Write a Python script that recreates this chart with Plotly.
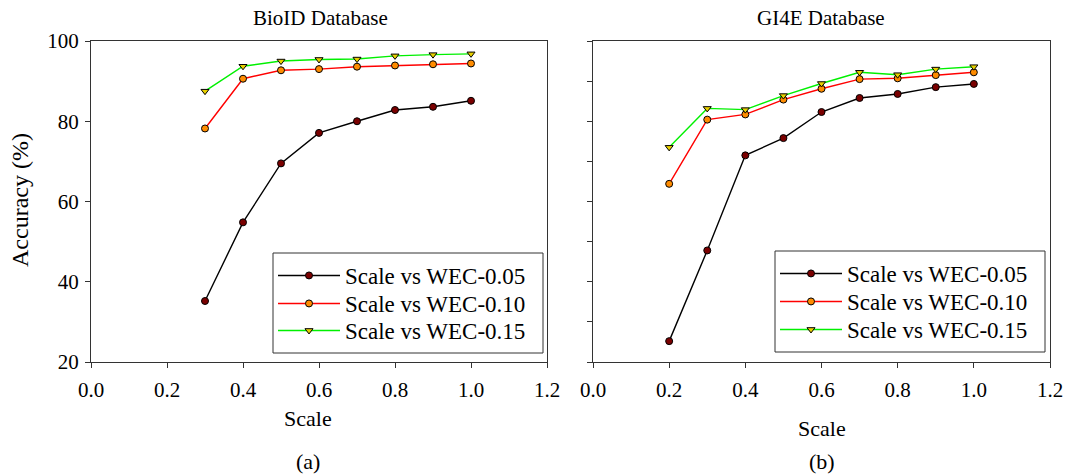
import plotly.graph_objects as go

scale_bio = [0.3, 0.4, 0.5, 0.6, 0.7, 0.8, 0.9, 1.0]
bio_wec005 = [35.2, 54.8, 69.5, 77.1, 80.0, 82.8, 83.6, 85.1]
bio_wec010 = [78.2, 90.6, 92.7, 93.0, 93.6, 93.9, 94.2, 94.4]
bio_wec015 = [87.5, 93.7, 95.0, 95.4, 95.5, 96.3, 96.6, 96.8]

scale_gi4e = [0.2, 0.3, 0.4, 0.5, 0.6, 0.7, 0.8, 0.9, 1.0]
gi4e_wec005 = [25.2, 47.8, 71.5, 75.8, 82.3, 85.8, 86.8, 88.5, 89.3]
gi4e_wec010 = [64.4, 80.4, 81.7, 85.4, 88.1, 90.5, 90.7, 91.5, 92.2]
gi4e_wec015 = [73.5, 83.2, 82.9, 86.4, 89.4, 92.2, 91.6, 93.0, 93.6]

series_names = ["Scale vs WEC-0.05", "Scale vs WEC-0.10", "Scale vs WEC-0.15"]
x_ticks = [0.0, 0.2, 0.4, 0.6, 0.8, 1.0, 1.2]
y_ticks = [20, 40, 60, 80, 100]

FONT = "Liberation Serif"
W, H = 1080, 474

styles = [
    dict(line=dict(color="black", width=1.4),
         marker=dict(symbol="circle", size=7, color="#7a0000", line=dict(color="black", width=1))),
    dict(line=dict(color="#ff0000", width=1.4),
         marker=dict(symbol="circle", size=7, color="#ff8c00", line=dict(color="black", width=1))),
    dict(line=dict(color="#00f000", width=1.4),
         marker=dict(symbol="triangle-down", size=7, color="#e8d000", line=dict(color="black", width=1))),
]

# legend row centres (pixels from top) for the left and right panels
left_rows = [275, 303, 330]
right_rows = [273, 301, 329]

fig = go.Figure()
for i, (name, ys, st) in enumerate(zip(series_names, [bio_wec005, bio_wec010, bio_wec015], styles)):
    fig.add_trace(go.Scatter(x=scale_bio, y=ys, mode="lines+markers", name=name, showlegend=True,
                             xaxis="x", yaxis="y", legend="legend" if i == 0 else f"legend{i + 1}", **st))
for i, (name, ys, st) in enumerate(zip(series_names, [gi4e_wec005, gi4e_wec010, gi4e_wec015], styles)):
    fig.add_trace(go.Scatter(x=scale_gi4e, y=ys, mode="lines+markers", name=name, showlegend=True,
                             xaxis="x2", yaxis="y2", legend=f"legend{i + 4}", **st))

ax_common = dict(showline=True, linecolor="#333", linewidth=1, mirror=True,
                 ticks="outside", ticklen=5, tickcolor="#333", showgrid=False,
                 zeroline=False, automargin=False,
                 tickfont=dict(family=FONT, size=21, color="black"))

y0 = 1 - 362 / H
y1 = 1 - 41 / H


def leg(x, row):
    return dict(x=x / W, y=1 - (row - 21) / H, xanchor="left", yanchor="top", borderwidth=0,
                bgcolor="rgba(0,0,0,0)", font=dict(family=FONT, size=23, color="black"),
                tracegroupgap=0, itemwidth=62, visible=True)


def txt(text, x, y, size, angle=0):
    return dict(text=text, x=x / W, y=1 - y / H, xref="paper", yref="paper",
                xanchor="center", yanchor="middle", showarrow=False, textangle=angle,
                font=dict(family=FONT, size=size, color="black"))


def box(x0, y0_, x1, y1_):
    return dict(type="rect", xref="paper", yref="paper", x0=x0 / W, x1=x1 / W,
                y0=1 - y1_ / H, y1=1 - y0_ / H, line=dict(color="#333", width=1),
                fillcolor="white", layer="below")


legends = {}
for i, r in enumerate(left_rows):
    legends["legend" if i == 0 else f"legend{i + 1}"] = leg(273, r)
for i, r in enumerate(right_rows):
    legends[f"legend{i + 4}"] = leg(775, r)

fig.update_layout(
    width=W, height=H,
    showlegend=True,
    margin=dict(l=0, r=0, t=0, b=0, pad=0, autoexpand=False),
    paper_bgcolor="white", plot_bgcolor="white",
    font=dict(family=FONT, color="black"),
    xaxis=dict(domain=[91 / W, 547 / W], range=[0, 1.2], tickvals=x_ticks,
               ticktext=[f"{v:.1f}" for v in x_ticks], anchor="y", ticklabelstandoff=4, **ax_common),
    yaxis=dict(domain=[y0, y1], range=[20, 100], tickvals=y_ticks, anchor="x", ticklabelstandoff=2, **ax_common),
    xaxis2=dict(domain=[593 / W, 1050 / W], range=[0, 1.2], tickvals=x_ticks,
                ticktext=[f"{v:.1f}" for v in x_ticks], anchor="y2", ticklabelstandoff=4, **ax_common),
    yaxis2=dict(domain=[y0, y1], range=[20, 100], dtick=10, showticklabels=False,
                anchor="x2", **ax_common),
    shapes=[box(273, 253, 543, 353), box(775, 251, 1045, 352)],
    annotations=[
        txt("BioID Database", 320, 18, 21),
        txt("GI4E Database", 821, 18, 21),
        txt("Accuracy (%)", 20, 200, 24, -90),
        txt("Scale", 308, 418, 22),
        txt("Scale", 822, 428, 22),
        txt("(a)", 308, 461, 22),
        txt("(b)", 822, 461, 22),
    ],
    **legends,
)

fig.write_html("out.html")
